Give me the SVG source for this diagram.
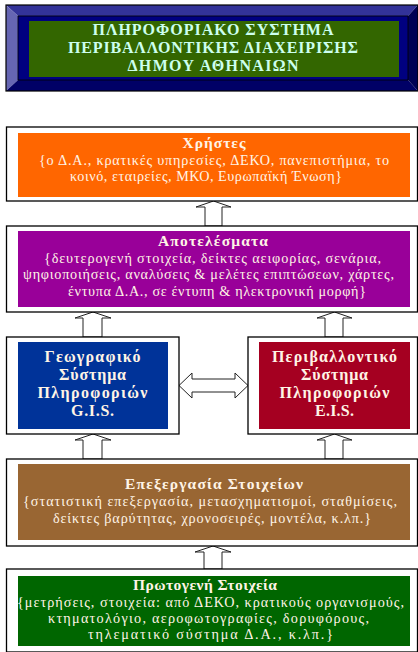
<svg xmlns="http://www.w3.org/2000/svg" width="418" height="652" viewBox="0 0 418 652">
<style>
.frame{fill:#ffffff;stroke:#000000;stroke-width:1.3}
.arrow{fill:#ffffff;stroke:#222222;stroke-width:1}
.t{font-family:"Liberation Serif","DejaVu Serif",serif;fill:#fff4e6;text-anchor:middle}
.h{font-size:15.5px;font-weight:bold}
.b{font-size:14.2px}
.g{font-size:16px;font-weight:bold}
.title{font-family:"Liberation Serif","DejaVu Serif",serif;fill:#ccffee;font-size:16px;font-weight:bold;text-anchor:middle}
</style>
<rect width="418" height="652" fill="#ffffff"/>
<g id="header">
  <polygon points="6,5 418,5 408,16 18,16" fill="#333399"/>
  <polygon points="6,5 18,16 18,80 6,91" fill="#6666b3"/>
  <polygon points="6,91 18,80 408,80 418,91" fill="#000066"/>
  <polygon points="418,5 408,16 408,80 418,91" fill="#000055"/>
  <rect x="18" y="16" width="390" height="64" fill="#000080" stroke="#000000" stroke-width="0.8"/>
  <rect x="6" y="5" width="412" height="86" fill="none" stroke="#000000" stroke-width="1.2"/>
  <rect x="29" y="21" width="370" height="56" fill="#336600"/>
  <text class="title" x="213" y="35" textLength="241">ΠΛΗΡΟΦΟΡΙΑΚΟ ΣΥΣΤΗΜΑ</text>
  <text class="title" x="213" y="53" textLength="290">ΠΕΡΙΒΑΛΛΟΝΤΙΚΗΣ ΔΙΑΧΕΙΡΙΣΗΣ</text>
  <text class="title" x="213" y="71" textLength="171">ΔΗΜΟΥ ΑΘΗΝΑΙΩΝ</text>
</g>
<g id="connectors">
  <polygon class="arrow" points="205,226 205,207 196,207 213.5,201 231,207 222,207 222,226"/>
  <polygon class="arrow" points="83,337 83,318 75,318 93,312 111,318 102,318 102,337"/>
  <polygon class="arrow" points="325,337 325,318 317,318 334.5,312 352,318 343,318 343,337"/>
  <polygon class="arrow" points="83,459 83,440 75,440 93,434 111,440 102,440 102,459"/>
  <polygon class="arrow" points="325,459 325,440 317,440 334.5,434 352,440 343,440 343,459"/>
  <polygon class="arrow" points="204,569 204,552 195,552 213,546 231,552 222,552 222,569"/>
  <polygon class="arrow" points="179,385.5 192,373 192,379 235,379 235,373 248,385.5 235,398 235,392 192,392 192,398"/>
</g>
<g id="users">
  <rect class="frame" x="6.5" y="127" width="411" height="74"/>
  <rect x="18" y="133" width="392" height="64" fill="#ff6600"/>
  <text class="t h" x="214" y="148" textLength="63">Χρήστες</text>
  <text class="t b" x="214" y="165" textLength="350">{ο Δ.Α., κρατικές υπηρεσίες, ΔΕΚΟ, πανεπιστήμια, το</text>
  <text class="t b" x="206" y="181" textLength="272">κοινό, εταιρείες, ΜΚΟ, Ευρωπαϊκή Ένωση}</text>
</g>
<g id="results">
  <rect class="frame" x="6.5" y="226" width="411" height="86"/>
  <rect x="18" y="231" width="392" height="76" fill="#990099"/>
  <text class="t h" x="213" y="246" textLength="110">Αποτελέσματα</text>
  <text class="t b" x="212.5" y="263" textLength="337">{δευτερογενή στοιχεία, δείκτες αειφορίας, σενάρια,</text>
  <text class="t b" x="208.5" y="279" textLength="371">ψηφιοποιήσεις, αναλύσεις &amp; μελέτες επιπτώσεων, χάρτες,</text>
  <text class="t b" x="217" y="296" textLength="298">έντυπα Δ.Α., σε έντυπη &amp; ηλεκτρονική μορφή}</text>
</g>
<g id="gis">
  <rect class="frame" x="6.5" y="337" width="172.5" height="97"/>
  <rect x="18" y="342" width="150" height="87" fill="#003399"/>
  <text class="t g" x="92.5" y="362" textLength="96">Γεωγραφικό</text>
  <text class="t g" x="92.5" y="380" textLength="67">Σύστημα</text>
  <text class="t g" x="92.5" y="398" textLength="110">Πληροφοριών</text>
  <text class="t g" x="92.5" y="416" textLength="43">G.I.S.</text>
</g>
<g id="eis">
  <rect class="frame" x="248" y="337" width="169.5" height="97"/>
  <rect x="259" y="342" width="151" height="87" fill="#a50021"/>
  <text class="t g" x="334.5" y="362" textLength="125">Περιβαλλοντικό</text>
  <text class="t g" x="334.5" y="380" textLength="67">Σύστημα</text>
  <text class="t g" x="334.5" y="398" textLength="110">Πληροφοριών</text>
  <text class="t g" x="334.5" y="416" textLength="39">E.I.S.</text>
</g>
<g id="processing">
  <rect class="frame" x="6.5" y="459" width="411" height="87"/>
  <rect x="18" y="464" width="392" height="76" fill="#996633"/>
  <text class="t h" x="214" y="489" textLength="178">Επεξεργασία Στοιχείων</text>
  <text class="t b" x="210" y="506" textLength="374">{στατιστική επεξεργασία, μετασχηματισμοί, σταθμίσεις,</text>
  <text class="t b" x="212" y="523" textLength="318">δείκτες βαρύτητας, χρονοσειρές, μοντέλα, κ.λπ.}</text>
</g>
<g id="primary">
  <rect class="frame" x="6.5" y="569" width="411" height="83"/>
  <rect x="18" y="576" width="392" height="70" fill="#006600"/>
  <text class="t h" x="205" y="590" textLength="144">Πρωτογενή Στοιχεία</text>
  <text class="t b" x="210.5" y="607" textLength="387">{μετρήσεις, στοιχεία: από ΔΕΚΟ, κρατικούς οργανισμούς,</text>
  <text class="t b" x="208.5" y="623" textLength="321">κτηματολόγιο, αεροφωτογραφίες, δορυφόρους,</text>
  <text class="t b" x="210.5" y="639" textLength="245">τηλεματικό σύστημα Δ.Α., κ.λπ.}</text>
</g>
</svg>
